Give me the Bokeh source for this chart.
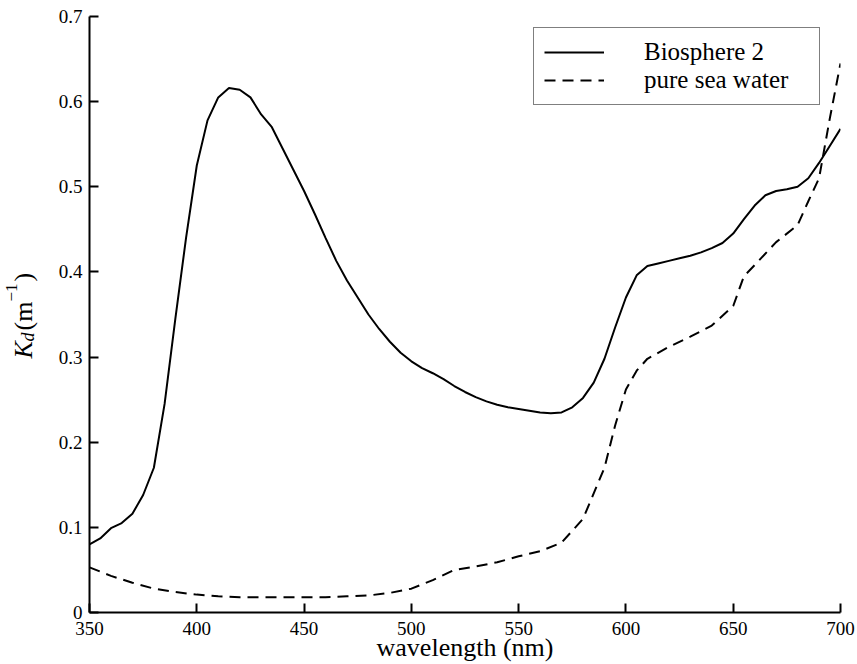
from bokeh.plotting import figure
from bokeh.models import Range1d, FixedTicker, CustomJSTickFormatter, Label, Legend, LegendItem
from bokeh.layouts import row
from bokeh.embed import file_html
from bokeh.resources import INLINE

# Biosphere 2 (solid)
wl_bio = [350, 355, 360, 365, 370, 375, 380, 385, 390, 395, 400, 405, 410, 415, 420,
          425, 430, 435, 440, 445, 450, 455, 460, 465, 470, 475, 480, 485, 490, 495,
          500, 505, 510, 515, 520, 525, 530, 535, 540, 545, 550, 555, 560, 565, 570,
          575, 580, 585, 590, 595, 600, 605, 610, 615, 620, 625, 630, 635, 640, 645,
          650, 655, 660, 665, 670, 675, 680, 685, 690, 695, 700]
kd_bio = [0.080, 0.087, 0.099, 0.105, 0.116, 0.138, 0.170, 0.245, 0.345, 0.440, 0.525, 0.578, 0.605, 0.616, 0.614,
          0.605, 0.585, 0.570, 0.545, 0.520, 0.495, 0.468, 0.440, 0.413, 0.390, 0.370, 0.350, 0.333, 0.318, 0.305,
          0.295, 0.287, 0.281, 0.274, 0.266, 0.259, 0.253, 0.248, 0.244, 0.241, 0.239, 0.237, 0.235, 0.234, 0.235,
          0.241, 0.252, 0.270, 0.298, 0.335, 0.370, 0.396, 0.407, 0.410, 0.413, 0.416, 0.419, 0.423, 0.428, 0.434,
          0.445, 0.462, 0.478, 0.490, 0.495, 0.497, 0.500, 0.510, 0.528, 0.548, 0.568]

# pure sea water (dashed)
wl_sea = [350, 360, 370, 380, 390, 400, 410, 420, 430, 440, 450, 460, 470, 480, 490,
          500, 510, 520, 530, 540, 550, 560, 570, 580, 590, 595, 600, 605, 610, 620,
          630, 640, 650, 655, 660, 670, 680, 685, 690, 695, 700]
kd_sea = [0.053, 0.043, 0.035, 0.028, 0.024, 0.021, 0.019, 0.018, 0.018, 0.018, 0.018, 0.018, 0.019, 0.020, 0.023,
          0.028, 0.038, 0.050, 0.054, 0.059, 0.066, 0.072, 0.082, 0.110, 0.170, 0.220, 0.262, 0.284, 0.298, 0.312,
          0.324, 0.337, 0.360, 0.395, 0.408, 0.435, 0.455, 0.483, 0.510, 0.580, 0.645]

x_ticks = [350, 400, 450, 500, 550, 600, 650, 700]
y_ticks = [0, 0.1, 0.2, 0.3, 0.4, 0.5, 0.6, 0.7]
legend_labels = ["Biosphere 2", "pure sea water"]
x_label = "wavelength (nm)"
y_label_parts = ["K", "d", "(m", "\u22121", ")"]

FONT = "Liberation Serif"
LEFT_W = 50

# ---- narrow left figure holding the rotated y-axis label ----
lab = figure(frame_width=LEFT_W, frame_height=664, output_backend="svg", toolbar_location=None,
             x_range=Range1d(0, LEFT_W), y_range=Range1d(664, 0),
             x_axis_location=None, y_axis_location=None, title=None,
             min_border_left=0, min_border_right=0, min_border_top=0, min_border_bottom=0)
lab.outline_line_color = None
lab.xgrid.visible = False
lab.ygrid.visible = False
lab.background_fill_color = "white"
lab.border_fill_color = "white"

ang = 1.5708
piece_pos = [(23, 342, "26px", "italic"),
             (27, 325, "18px", "italic"),
             (23, 314, "26px", "normal"),
             (11, 285, "17px", "normal"),
             (23, 265, "26px", "normal")]
for t, (xx, yy, fs, st) in zip(y_label_parts, piece_pos):
    lab.add_layout(Label(x=xx, y=yy, text=t, angle=ang, text_align="left",
                         text_baseline="alphabetic", text_font=FONT, text_font_size=fs,
                         text_font_style=st, text_color="black"))

# ---- main chart ----
p = figure(width=857 - LEFT_W, height=664, output_backend="svg", toolbar_location=None,
           x_range=Range1d(350, 700), y_range=Range1d(0, 0.7),
           min_border_left=89 - LEFT_W, min_border_right=17, min_border_top=16, min_border_bottom=52)
p.outline_line_color = None
p.xgrid.visible = False
p.ygrid.visible = False
p.background_fill_color = "white"
p.border_fill_color = "white"

for ax in (p.xaxis[0], p.yaxis[0]):
    ax.axis_line_width = 2
    ax.axis_line_color = "black"
    ax.major_tick_in = 9
    ax.major_tick_out = 0
    ax.major_tick_line_width = 2
    ax.major_tick_line_color = "black"
    ax.minor_tick_in = 0
    ax.minor_tick_out = 0
    ax.major_label_text_font = FONT
    ax.major_label_text_font_size = "19px"
    ax.major_label_text_color = "black"

p.xaxis[0].ticker = FixedTicker(ticks=x_ticks)
p.yaxis[0].ticker = FixedTicker(ticks=y_ticks)
p.yaxis[0].formatter = CustomJSTickFormatter(code="return tick == 0 ? '0' : tick.toFixed(1);")
p.xaxis[0].major_label_standoff = 9
p.yaxis[0].major_label_standoff = 7

p.xaxis[0].axis_label = x_label
p.xaxis[0].axis_label_text_font = FONT
p.xaxis[0].axis_label_text_font_size = "26px"
p.xaxis[0].axis_label_text_font_style = "normal"
p.xaxis[0].axis_label_text_color = "black"
p.xaxis[0].axis_label_standoff = -5

r1 = p.line(wl_bio, kd_bio, line_color="black", line_width=2)
r2 = p.line(wl_sea, kd_sea, line_color="black", line_width=2, line_dash="11 7")

legend = Legend(items=[LegendItem(label=legend_labels[0], renderers=[r1]),
                       LegendItem(label=legend_labels[1], renderers=[r2])],
                location=(444, 507))
legend.label_text_font = FONT
legend.label_text_font_size = "25px"
legend.label_text_color = "black"
legend.glyph_width = 60
legend.glyph_height = 26
legend.label_height = 26
legend.label_width = 165
legend.label_standoff = 40
legend.padding = 10
legend.spacing = 0
legend.margin = 0
legend.border_line_color = "black"
legend.border_line_width = 1.5
legend.background_fill_alpha = 1
legend.background_fill_color = "white"
p.add_layout(legend)

layout = row(lab, p, spacing=0)
open("out.html", "w").write(file_html(layout, INLINE))
